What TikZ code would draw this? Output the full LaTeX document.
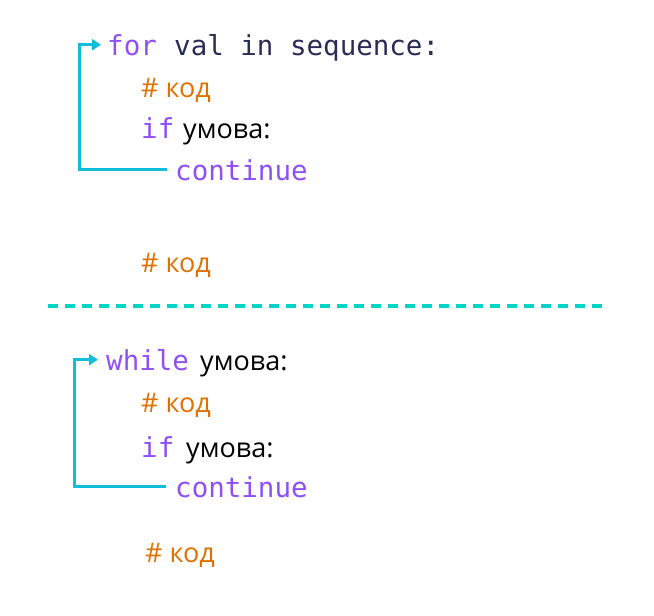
\documentclass[tikz,border=0pt]{standalone}
\usepackage{fontspec}
\setmainfont{Open Sans}
\setmonofont{DejaVu Sans Mono}
\usepackage{xcolor}
\usetikzlibrary{arrows.meta,positioning}

\definecolor{kwpurple}{HTML}{8E4FF5}
\definecolor{codenavy}{HTML}{2B2B55}
\definecolor{cmtorange}{HTML}{E07000}
\definecolor{loopcyan}{HTML}{10BEDC}
\definecolor{sepcyan}{HTML}{00D6C8}

\begin{document}
\begin{tikzpicture}[x=1pt,y=-1pt,
  txt/.style={anchor=base west,inner sep=0pt},
  kw/.style={txt,font=\fontsize{27.5}{30}\ttfamily,text=kwpurple},
  code/.style={txt,font=\fontsize{27.5}{30}\ttfamily,text=codenavy},
  cmt/.style={txt,font=\fontsize{27}{30}\selectfont,text=cmtorange},
  cond/.style={txt,font=\fontsize{27}{30}\selectfont,text=black},
  loop/.style={-{Triangle[length=9pt,width=11pt]},line width=3pt,loopcyan},
  sep/.style={sepcyan,line width=3.5pt,dash pattern=on 10pt off 7pt}
]
\useasboundingbox (0,0) rectangle (654,616);

% for loop
\node[kw] (for1) at (107,55) {for};
\node[code] (seq1) at (174,55) {val in sequence:};
\node[cmt] (cmt1) at (141,97) {\# код};
\node[kw] (if1) at (141,138) {if};
\node[cond] (cond1) at (183,138) {умова:};
\node[kw] (cont1) at (175,180) {continue};
\node[cmt] (cmt2) at (141,272) {\# код};

% separator
\coordinate (sepL) at (48,306);
\coordinate (sepR) at (606,306);
\draw[sep] (sepL) -- (sepR);

% while loop
\node[kw] (while1) at (106,370) {while};
\node[cond] (cond2) at (200,370) {умова:};
\node[cmt] (cmt3) at (141,412) {\# код};
\node[kw] (if2) at (141,457) {if};
\node[cond] (cond3) at (186,457) {умова:};
\node[kw] (cont2) at (175,497) {continue};
\node[cmt] (cmt4) at (145,562) {\# код};

% loop arrows
\draw[loop] ([xshift=-8pt]cont1.west) -| ([xshift=-28pt]for1.west) -- ([xshift=-6pt]for1.west);
\draw[loop] ([xshift=-9pt]cont2.west) -| ([xshift=-32pt]while1.west) -- ([xshift=-8pt]while1.west);

\end{tikzpicture}
\end{document}
